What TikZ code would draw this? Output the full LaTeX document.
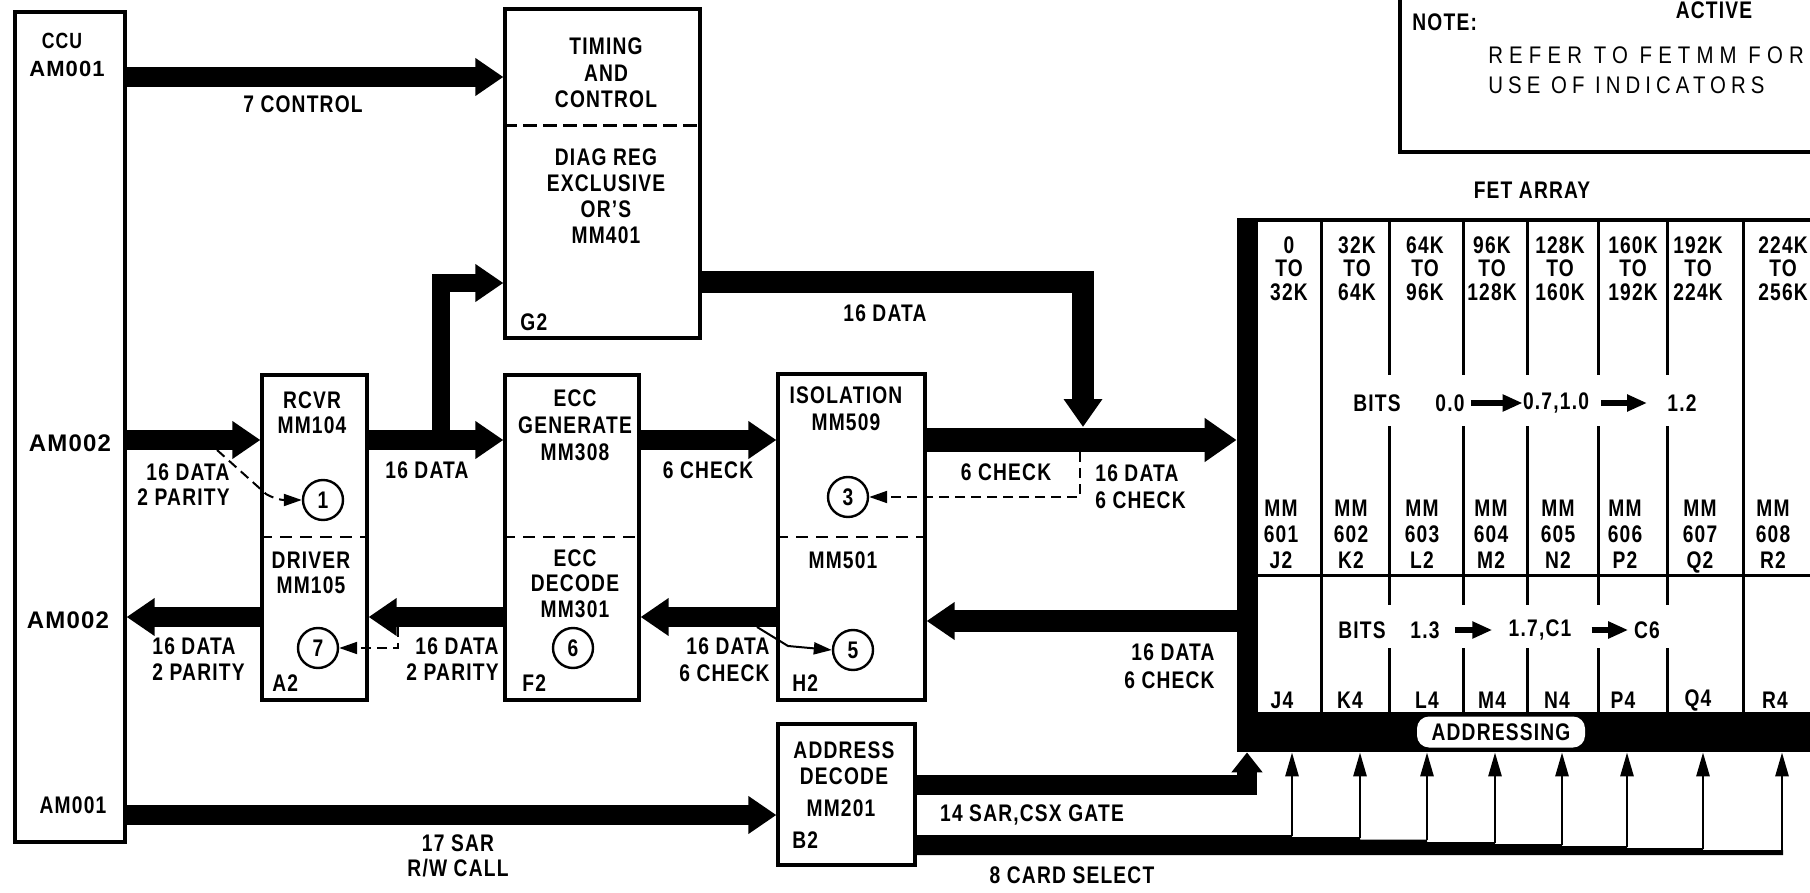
\documentclass[tikz,border=0pt]{standalone}
\usepackage{fontspec}
\setmainfont{Liberation Sans}[FakeStretch=0.8,LetterSpace=5]
\newfontfamily\widefont{Liberation Sans}[LetterSpace=5]
\newfontfamily\noteA{Liberation Sans}[FakeStretch=0.85,LetterSpace=25.5]
\newfontfamily\noteB{Liberation Sans}[FakeStretch=0.85,LetterSpace=21]
\usetikzlibrary{arrows.meta,fit}
\begin{document}
\begin{tikzpicture}[x=0.5pt,y=-0.5pt,
  blk/.style={draw,line width=1.6pt,inner sep=0pt},
  lab/.style={font=\bfseries\fontsize{12}{13.25}\selectfont,inner sep=0pt,align=center},
  bus/.style={line width=10pt,-{Triangle[length=14pt,width=18pt]}},
  divider/.style={line width=1.2pt,dash pattern=on 6pt off 4pt},
  dashconn/.style={line width=1pt,dash pattern=on 5pt off 3pt,-{Triangle[length=9pt,width=6pt]}},
  thinconn/.style={line width=1pt,-{Triangle[length=9pt,width=6pt]}},
  num/.style={circle,draw,line width=1.2pt,minimum size=20pt,inner sep=0pt,font=\bfseries\fontsize{12}{13}\selectfont},
  colline/.style={line width=1.5pt},
  vup/.style={line width=1.4pt,-{Triangle[length=12pt,width=6.5pt]}},
  bitarrow/.style={line width=3pt,-{Triangle[length=10pt,width=8pt]}}
]
\useasboundingbox (0,0) rectangle (1810,893);
\clip (0,0) rectangle (1810,893);
\fill[white] (0,0) rectangle (1810,893);

% ---------- boxes ----------
\node[blk, fit={(15,12) (125,842)}] (ccu) {};
\node[blk, fit={(505,9) (700,338)}] (tim) {};
\node[blk, fit={(262,375) (367,700)}] (rcv) {};
\node[blk, fit={(505,375) (639,700)}] (ecc) {};
\node[blk, fit={(778,374) (925,700)}] (iso) {};
\node[blk, fit={(778,724) (915,865)}] (adr) {};
\node[blk, fit={(1400,-40) (1860,152)}] (note) {};
\node[inner sep=0pt, fit={(1237,220) (1860,752)}] (fet) {};

\draw[line width=1.5pt,dash pattern=on 7pt off 3pt] (tim.west |- 0,126) -- (tim.east |- 0,126);
\draw[divider] (rcv.west |- 0,537) -- (rcv.east |- 0,537);
\draw[divider] (ecc.west |- 0,537) -- (ecc.east |- 0,537);
\draw[divider] (iso.west |- 0,537) -- (iso.east |- 0,537);

% ---------- FET array frame ----------
\fill (1237,220) rectangle (1258,752);
\fill (1237,712) rectangle (1860,752);
\draw[line width=2pt] (1237,220) -- (1860,220);
\draw[colline] (1258,575) -- (1860,575);
\foreach \x in {1321,1743} \draw[colline] (\x,220) -- (\x,712);
\foreach \x in {1389,1463,1527,1598,1667}
  \draw[colline] (\x,220) -- (\x,375) (\x,426) -- (\x,605) (\x,648) -- (\x,712);

% ---------- texts in boxes ----------
\node[lab, font=\bfseries\fontsize{11}{12}\selectfont] (ccut) at (62,41) {CCU};
\node[lab, font=\widefont\bfseries\fontsize{11}{12}\selectfont] (am1) at (67,69) {AM001};
\node[lab, font=\widefont\bfseries\fontsize{12}{13}\selectfont] (am2) at (70,443) {AM002};
\node[lab, font=\widefont\bfseries\fontsize{12}{13}\selectfont] (am3) at (68,620) {AM002};
\node[lab] (am4) at (73,805) {AM001};

\node[lab] (timt) at (606,73) {TIMING\\AND\\CONTROL};
\node[lab, font=\bfseries\fontsize{12}{13}\selectfont] (diag) at (606,196) {DIAG REG\\EXCLUSIVE\\OR'S\\MM401};
\node[lab, anchor=west] (g2) at (520,322) {G2};

\node[lab, font=\bfseries\fontsize{12}{12.5}\selectfont] (rcvt) at (312,412.5) {RCVR\\MM104};
\node[lab, font=\bfseries\fontsize{12}{12.5}\selectfont] (drvt) at (311,572.5) {DRIVER\\MM105};
\node[lab, anchor=west] (a2) at (272,683) {A2};

\node[lab, font=\bfseries\fontsize{12}{13.5}\selectfont] (eccg) at (575,425) {ECC\\GENERATE\\MM308};
\node[lab, font=\bfseries\fontsize{12}{12.75}\selectfont] (eccd) at (575,583.5) {ECC\\DECODE\\MM301};
\node[lab, anchor=west] (f2) at (522,683) {F2};

\node[lab, font=\bfseries\fontsize{12}{13.5}\selectfont] (isot) at (846,408.5) {ISOLATION\\MM509};
\node[lab] (mm501) at (843,560) {MM501};
\node[lab, anchor=west] (h2) at (792,683) {H2};

\node[lab, font=\bfseries\fontsize{12}{13}\selectfont] (adrt) at (844,763) {ADDRESS\\DECODE};
\node[lab] (mm201) at (841,808) {MM201};
\node[lab, anchor=west] (b2) at (792,840) {B2};

% ---------- indicator circles ----------
\node[num] (c1) at (323,500) {1};
\node[num] (c7) at (318,648) {7};
\node[num] (c6) at (573,648) {6};
\node[num] (c3) at (848,497) {3};
\node[num] (c5) at (853,650) {5};

% ---------- note ----------
\node[lab] (act) at (1714,10) {ACTIVE};
\node[lab, anchor=west] (notet) at (1412,22) {NOTE:};
\node[lab, anchor=west, font=\noteA\fontsize{12}{13}\selectfont] (ref1) at (1488,55) {REFER TO FETMM FOR};
\node[lab, anchor=west, font=\noteB\fontsize{12}{13}\selectfont] (ref2) at (1488,85) {USE OF INDICATORS};

% ---------- FET array texts ----------
\node[lab] (fett) at (1532,190) {FET ARRAY};
\foreach \n/\x/\t in {r0/1289/{0\\TO\\32K}, r1/1357/{32K\\TO\\64K}, r2/1425/{64K\\TO\\96K},
  r3/1492/{96K\\TO\\128K}, r4/1560/{128K\\TO\\160K}, r5/1633/{160K\\TO\\192K},
  r6/1698/{192K\\TO\\224K}, r7/1783/{224K\\TO\\256K}}
  \node[lab, font=\bfseries\fontsize{12}{11.75}\selectfont] (\n) at (\x,268.5) {\t};
\foreach \n/\x/\t in {m1/1281/{MM\\601\\J2}, m2/1351/{MM\\602\\K2}, m3/1422/{MM\\603\\L2},
  m4/1491/{MM\\604\\M2}, m5/1558/{MM\\605\\N2}, m6/1625/{MM\\606\\P2},
  m7/1700/{MM\\607\\Q2}, m8/1773/{MM\\608\\R2}}
  \node[lab, anchor=north, font=\bfseries\fontsize{12}{13}\selectfont] (\n) at (\x,499.5) {\t};
\foreach \n/\x/\t in {k1/1282/J4, k2/1350/K4, k3/1427/L4, k4/1492/M4, k5/1557/N4,
  k6/1623/P4, k7/1698/Q4, k8/1775/R4}
  \node[lab] (\n) at (\x,700) {\t};

\node[lab] (b1a) at (1377,403) {BITS};
\node[lab] (b1b) at (1450,403) {0.0};
\node[lab] (b1c) at (1556,403) {0.7,1.0};
\node[lab] (b1d) at (1682,403) {1.2};
\draw[bitarrow, shorten <=3pt] (b1b.east) -- (b1c.west);
\draw[bitarrow, shorten <=6pt, shorten >=10pt] (b1c.east) -- (b1d.west);
\node[lab] (b2a) at (1362,630) {BITS};
\node[lab] (b2b) at (1425,630) {1.3};
\node[lab] (b2c) at (1540,630) {1.7,C1};
\node[lab] (b2d) at (1647,630) {C6};
\draw[bitarrow, shorten <=7.5pt, shorten >=8pt] (b2b.east) -- (b2c.west);
\draw[bitarrow, shorten <=10pt, shorten >=2.75pt] (b2c.east) -- (b2d.west);

\node[lab, fill=white, rounded corners=6pt, minimum width=84pt, minimum height=15.5pt] (addr) at (1501,732) {ADDRESSING};

% ---------- buses ----------
\draw[bus] (ccu.east |- 0,77) -- (tim.west |- 0,77);
\node[lab] (l7) at (303,104) {7 CONTROL};

\draw[bus] (ccu.east |- 0,440) -- (rcv.west |- 0,440);
\node[lab, anchor=east, align=right, font=\bfseries\fontsize{12}{12.5}\selectfont] (l1) at (230,484.5) {16 DATA\\2 PARITY};

\draw[bus] (rcv.east |- 0,440) -- (ecc.west |- 0,440);
\node[lab] (l2) at (427,470) {16 DATA};
\coordinate (br) at (441,440);
\draw[bus, line width=9pt] (br) |- (tim.west |- 0,283);

\draw[bus] (ecc.east |- 0,440) -- (iso.west |- 0,440);
\node[lab] (l3) at (708,470) {6 CHECK};

\draw[bus, line width=12pt, -{Triangle[length=16pt,width=21pt]}] (iso.east |- 0,440) -- (fet.west |- 0,440);
\node[lab] (l4) at (1006,472) {6 CHECK};
\node[lab, anchor=west, align=left, font=\bfseries\fontsize{12}{13.5}\selectfont] (l5) at (1095,486.5) {16 DATA\\6 CHECK};

\coordinate (j16) at (1083,427);
\draw[line width=11pt, -{Triangle[length=14pt,width=18.5pt]}] (tim.east |- 0,282) -| (j16);
\node[lab] (l6) at (885,313) {16 DATA};

\draw[bus, line width=11pt] (fet.west |- 0,621) -- (iso.east |- 0,621);
\node[lab, anchor=east, align=right, font=\bfseries\fontsize{12}{14}\selectfont] (l8) at (1215,666) {16 DATA\\6 CHECK};

\draw[bus] (iso.west |- 0,617) -- (ecc.east |- 0,617);
\node[lab, anchor=east, align=right, font=\bfseries\fontsize{12}{13.5}\selectfont] (l9) at (770,659.5) {16 DATA\\6 CHECK};

\draw[bus] (ecc.west |- 0,617) -- (rcv.east |- 0,617);
\node[lab, anchor=east, align=right, font=\bfseries\fontsize{12}{13}\selectfont] (l10) at (499,659) {16 DATA\\2 PARITY};

\draw[bus] (rcv.west |- 0,617) -- (ccu.east |- 0,617);
\node[lab, anchor=west, align=left, font=\bfseries\fontsize{12}{13}\selectfont] (l11) at (152,659) {16 DATA\\2 PARITY};

\draw[bus] (ccu.east |- 0,815) -- (adr.west |- 0,815);
\node[lab, font=\bfseries\fontsize{12}{12.5}\selectfont] (l12) at (458,855.5) {17 SAR\\R/W CALL};

\draw[bus, -{Triangle[length=10pt,width=15pt]}] (adr.east |- 0,785) -| (fet.south -| 1247,0);
\node[lab] (l13) at (1032,815) {14 SAR,CSX GATE};

\fill (adr.east |- 0,835) -- (1292,835) -- (1292,837) -- (1360,837) -- (1360,839.5)
  -- (1427,839.5) -- (1427,842) -- (1495,842) -- (1495,844) -- (1562,844) -- (1562,846)
  -- (1627,846) -- (1627,848) -- (1703,848) -- (1703,850) -- (1783,850) -- (1783,855)
  -- (adr.east |- 0,855) -- cycle;
\foreach \x/\y in {1292/836,1360/838,1427/840,1495/843,1562/845,1627/847,1703/849,1782/854}
  \draw[vup] (\x,\y) -- (fet.south -| \x,0);
\node[lab] (l14) at (1072,875) {8 CARD SELECT};

% ---------- indicator connectors ----------
\coordinate (d1) at (217,450);
\draw[dashconn] (d1) -- (266,494) to[out=-30,in=180] (c1.west);
\coordinate (d7) at (398,627);
\draw[dashconn] (d7) |- (c7.east);
\coordinate (d3) at (1080,452);
\draw[dashconn] (d3) |- (c3.east);
\coordinate (d5) at (757,627);
\draw[thinconn] (d5) -- (788,646) -- (c5.west);
\end{tikzpicture}
\end{document}
